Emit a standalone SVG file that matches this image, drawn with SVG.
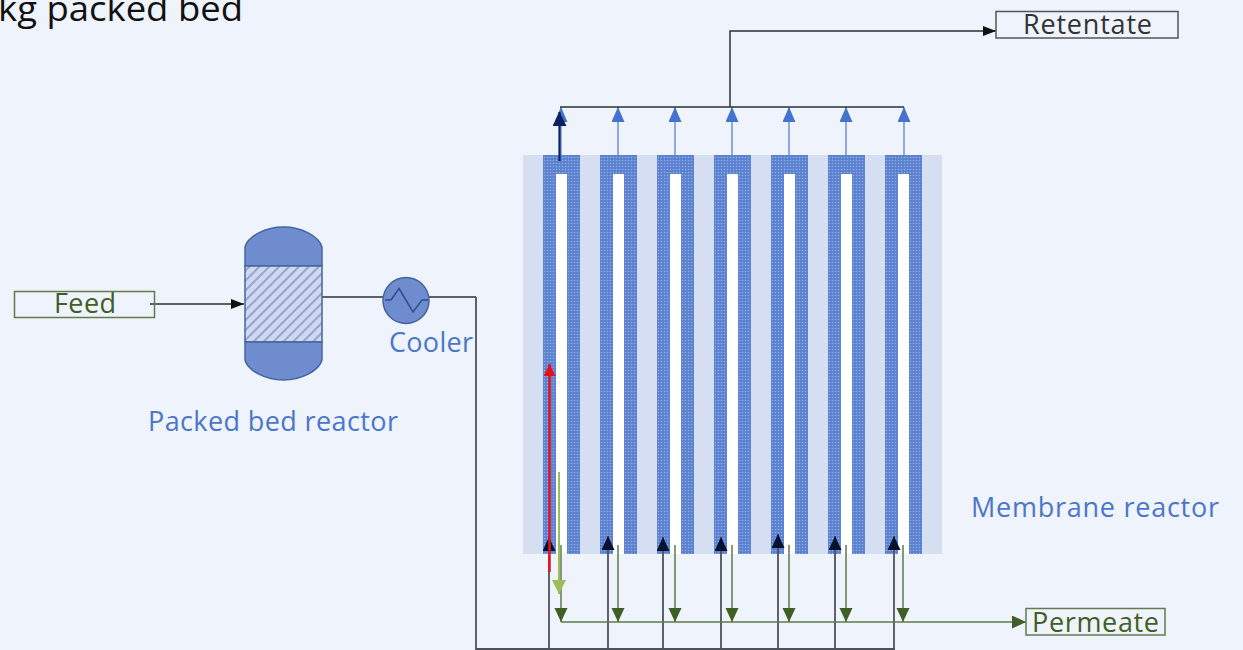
<svg xmlns="http://www.w3.org/2000/svg" width="1243" height="650" viewBox="0 0 1243 650">
<style>
text{font-family:"Open Sans","Noto Sans","Liberation Sans",sans-serif}
.blue{fill:#4c76c8;font-size:27px}
.green{fill:#3f5f26;font-size:27px}
.box{fill:none;stroke:#64794f;stroke-width:1.5}
.tube{fill:url(#dots)}
.slot{fill:#fff}
.eq{fill:#6f8ccf;stroke:#44659f;stroke-width:1.5}
.k{fill:none;stroke:#2b2f36;stroke-width:1.5}
.kg{fill:none;stroke:#4c525c;stroke-width:1.8}
.g{fill:none;stroke:#5f7a48;stroke-width:1.5}
.b{fill:none;stroke:#6f8fd6;stroke-width:1.5}
</style>
<defs>
<pattern id="dots" width="3" height="3" patternUnits="userSpaceOnUse">
<rect width="3" height="3" fill="#5a80d0"/>
<circle cx="1.500" cy="1.500" r=".8" fill="#94ade6"/>
</pattern>
<pattern id="hatch" width="7" height="7" patternUnits="userSpaceOnUse" patternTransform="rotate(45)">
<rect width="7" height="7" fill="#ced8ef"/>
<rect width="1.800" height="7" fill="#8f9fcd"/>
</pattern>
<marker id="ak" markerUnits="userSpaceOnUse" markerWidth="14" markerHeight="12" refX="13" refY="5" orient="auto"><path d="M0 0L13 5L0 10Z" fill="#111"/></marker>
<marker id="ag" markerUnits="userSpaceOnUse" markerWidth="16" markerHeight="14" refX="14" refY="6.500" orient="auto"><path d="M0 0L14 6.500L0 13Z" fill="#3f5f26"/></marker>
<marker id="ab" markerUnits="userSpaceOnUse" markerWidth="16" markerHeight="14" refX="15" refY="6.500" orient="auto"><path d="M0 0L15 6.500L0 13Z" fill="#4472cf"/></marker>
<marker id="akup" markerUnits="userSpaceOnUse" markerWidth="16" markerHeight="14" refX="14" refY="6.500" orient="auto"><path d="M0 0L14 6.500L0 13Z" fill="#07122e"/></marker>
<marker id="an" markerUnits="userSpaceOnUse" markerWidth="16" markerHeight="16" refX="14" refY="7" orient="auto"><path d="M0 0L14 7L0 14Z" fill="#0b2260"/></marker>
<marker id="ar" markerUnits="userSpaceOnUse" markerWidth="14" markerHeight="14" refX="12" refY="6" orient="auto"><path d="M0 0L12 6L0 12Z" fill="#e8101c"/></marker>
<marker id="al" markerUnits="userSpaceOnUse" markerWidth="16" markerHeight="16" refX="14" refY="7" orient="auto"><path d="M0 0L14 7L0 14Z" fill="#9dbb57"/></marker>
</defs>
<rect width="1243" height="650" fill="#eff3fb"/>
<text x="-2" y="21" font-size="34" fill="#111" textLength="245" lengthAdjust="spacingAndGlyphs">kg packed bed</text>

<g id="membrane-reactor">
<rect x="523" y="155" width="419" height="399" fill="#d6dff2"/>
<g id="tube-1"><path class="tube" d="M543 155H580V554H567V174H556V554H543Z"/><rect class="slot" x="556" y="174" width="11" height="380"/></g>
<g id="tube-2"><path class="tube" d="M600 155H637V554H624V174H613V554H600Z"/><rect class="slot" x="613" y="174" width="11" height="380"/></g>
<g id="tube-3"><path class="tube" d="M657 155H694V554H681V174H670V554H657Z"/><rect class="slot" x="670" y="174" width="11" height="380"/></g>
<g id="tube-4"><path class="tube" d="M714 155H751V554H738V174H727V554H714Z"/><rect class="slot" x="727" y="174" width="11" height="380"/></g>
<g id="tube-5"><path class="tube" d="M771 155H808V554H795V174H784V554H771Z"/><rect class="slot" x="784" y="174" width="11" height="380"/></g>
<g id="tube-6"><path class="tube" d="M828 155H865V554H852V174H841V554H828Z"/><rect class="slot" x="841" y="174" width="11" height="380"/></g>
<g id="tube-7"><path class="tube" d="M885 155H922V554H909V174H898V554H885Z"/><rect class="slot" x="898" y="174" width="11" height="380"/></g>
<text class="blue" x="971" y="517" textLength="248">Membrane reactor</text>
</g>

<g id="connectors">
<path class="k" d="M150 304H244" marker-end="url(#ak)"/>
<path class="k" d="M322 297H383"/>
<path class="k" d="M429 297H476"/>
<path class="kg" d="M476 297V650"/>
<path class="kg" d="M476 649H895"/>
<path class="kg" d="M549 650V537" marker-end="url(#akup)"/>
<path class="kg" d="M608 650V536" marker-end="url(#akup)"/>
<path class="kg" d="M663 650V537" marker-end="url(#akup)"/>
<path class="kg" d="M721 650V537" marker-end="url(#akup)"/>
<path class="kg" d="M778 650V534" marker-end="url(#akup)"/>
<path class="kg" d="M835 650V536" marker-end="url(#akup)"/>
<path class="kg" d="M894 650V536" marker-end="url(#akup)"/>
<path class="g" d="M561 622H1026" marker-end="url(#ag)"/>
<path class="g" d="M561 545V622" marker-end="url(#ag)"/>
<path class="g" d="M618 545V622" marker-end="url(#ag)"/>
<path class="g" d="M675 545V622" marker-end="url(#ag)"/>
<path class="g" d="M732 545V622" marker-end="url(#ag)"/>
<path class="g" d="M789 545V622" marker-end="url(#ag)"/>
<path class="g" d="M846 545V622" marker-end="url(#ag)"/>
<path class="g" d="M903 545V622" marker-end="url(#ag)"/>
<path d="M559 472V594" fill="none" stroke="#9dbb57" stroke-width="2" marker-end="url(#al)"/>
<path d="M549.500 572V364" fill="none" stroke="#e8101c" stroke-width="2.500" marker-end="url(#ar)"/>
<path class="b" d="M561 155V107" marker-end="url(#ab)"/>
<path class="b" d="M618 155V107" marker-end="url(#ab)"/>
<path class="b" d="M675 155V107" marker-end="url(#ab)"/>
<path class="b" d="M732 155V107" marker-end="url(#ab)"/>
<path class="b" d="M789 155V107" marker-end="url(#ab)"/>
<path class="b" d="M846 155V107" marker-end="url(#ab)"/>
<path class="b" d="M904 155V107" marker-end="url(#ab)"/>
<path d="M559.500 161V112" fill="none" stroke="#0b2260" stroke-width="2.200" marker-end="url(#an)"/>
<path class="k" d="M560 107H904"/>
<path class="k" d="M730 107V31H996" marker-end="url(#ak)"/>
</g>

<g id="feed"><rect class="box" x="14.500" y="291.500" width="140" height="26"/><text class="green" x="54" y="313" textLength="62">Feed</text></g>
<g id="retentate"><rect x="996" y="11.500" width="182" height="26.500" fill="none" stroke="#555" stroke-width="1.500"/><text x="1023" y="34" font-size="27" fill="#333" textLength="129">Retentate</text></g>
<g id="permeate"><rect class="box" x="1026" y="608.500" width="139" height="26.500"/><text class="green" x="1032" y="632" textLength="127">Permeate</text></g>

<g id="packed-bed-reactor">
<path class="eq" d="M245 266V247C248 236 266 227 283.500 227C301 227 319 236 322 247V266Z"/>
<rect x="245" y="266" width="77" height="76" fill="url(#hatch)" stroke="#44659f" stroke-width="1.500"/>
<path class="eq" d="M245 342V360C248 371 266 380 283.500 380C301 380 319 371 322 360V342Z"/>
<text class="blue" x="148" y="431" textLength="250">Packed bed reactor</text>
</g>

<g id="cooler">
<circle class="eq" cx="406" cy="300.500" r="23"/>
<path d="M385 300H391L399 288.500L413 312L422 300H428" fill="none" stroke="#2f4f92" stroke-width="1.500"/>
<text class="blue" x="389" y="352" textLength="84">Cooler</text>
</g>
</svg>
